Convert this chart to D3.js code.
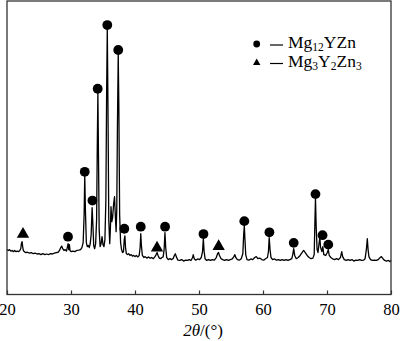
<!DOCTYPE html>
<html>
<head>
<meta charset="utf-8">
<script src="https://cdn.jsdelivr.net/npm/d3@7/dist/d3.min.js"></script>
<style>
  html, body { margin: 0; padding: 0; background: #fff; }
  svg { display: block; }
</style>
</head>
<body>
<svg id="chart" width="400" height="341"></svg>
<script>
// XRD pattern: [2θ (°), intensity (a.u.)]
const pattern = [
  [20.0,153],[20.2,150],[20.4,153],[20.6,148],[20.8,150],[21.0,146],[21.2,150],[21.4,146],
  [21.6,148],[21.8,146],[22.0,150],[22.15,156],[22.25,173],[22.35,180],[22.45,163],[22.55,150],
  [22.7,146],[22.9,143],[23.2,144],[23.5,141],[23.8,143],[24.1,139],[24.4,141],[24.7,138],
  [25.0,139],[25.3,136],[25.6,139],[25.9,136],[26.2,138],[26.5,136],[26.8,139],[27.1,138],
  [27.4,141],[27.7,143],[28.0,144],[28.2,150],[28.4,160],[28.55,165],[28.7,156],[28.9,150],
  [29.1,153],[29.3,148],[29.45,163],[29.55,173],[29.65,153],[29.75,170],[29.85,150],[30.0,146],
  [30.3,148],[30.6,146],[30.9,150],[31.2,151],[31.5,153],[31.7,160],[31.9,177],[32.05,272],
  [32.15,405],[32.25,289],[32.4,177],[32.55,163],[32.7,167],[32.85,160],[33.0,173],[33.15,204],
  [33.3,296],[33.42,238],[33.55,167],[33.7,156],[33.85,173],[34.0,255],[34.1,493],[34.2,687],
  [34.3,459],[34.4,221],[34.55,163],[34.7,173],[34.85,197],[35.0,170],[35.15,163],[35.3,187],
  [35.45,323],[35.57,697],[35.67,908],[35.77,663],[35.9,255],[36.05,173],[36.15,221],[36.25,299],
  [36.38,248],[36.5,262],[36.65,306],[36.8,333],[36.92,272],[37.05,214],[37.15,289],[37.25,561],
  [37.38,820],[37.48,629],[37.6,272],[37.75,177],[37.9,153],[38.05,143],[38.2,146],[38.32,187],
  [38.42,200],[38.52,160],[38.65,139],[38.85,136],[39.0,139],[39.2,133],[39.4,136],[39.6,131],
  [39.8,133],[40.0,129],[40.2,133],[40.45,128],[40.65,133],[40.8,160],[40.9,207],[41.0,167],
  [41.15,133],[41.4,126],[41.6,129],[41.85,124],[42.1,128],[42.35,124],[42.6,126],[42.85,122],
  [43.1,128],[43.3,136],[43.45,143],[43.6,133],[43.8,124],[44.0,122],[44.2,126],[44.4,128],
  [44.55,153],[44.68,211],[44.8,160],[44.95,126],[45.2,119],[45.45,122],[45.7,119],[45.95,122],
  [46.15,133],[46.3,139],[46.45,129],[46.7,117],[47.0,116],[47.3,119],[47.6,114],[47.9,117],
  [48.2,116],[48.5,119],[48.75,116],[49.0,126],[49.1,136],[49.25,122],[49.5,117],[49.8,121],
  [50.1,119],[50.35,126],[50.55,146],[50.68,190],[50.8,146],[50.95,122],[51.2,116],[51.5,119],
  [51.8,116],[52.1,119],[52.4,117],[52.7,126],[52.9,139],[53.05,143],[53.2,133],[53.45,122],
  [53.7,119],[54.0,116],[54.3,119],[54.6,116],[54.9,119],[55.2,121],[55.45,129],[55.6,136],
  [55.75,126],[56.0,119],[56.3,117],[56.6,122],[56.85,139],[56.98,204],[57.08,235],[57.18,187],
  [57.3,136],[57.5,119],[57.8,117],[58.1,121],[58.4,119],[58.7,126],[58.95,129],[59.2,122],
  [59.5,124],[59.8,119],[60.1,117],[60.4,122],[60.7,126],[60.85,146],[60.97,194],[61.1,153],
  [61.25,126],[61.5,119],[61.8,121],[62.1,117],[62.4,119],[62.7,116],[63.0,119],[63.3,116],
  [63.6,119],[63.9,116],[64.2,119],[64.5,122],[64.65,136],[64.8,156],[64.95,133],[65.2,122],
  [65.5,126],[65.8,133],[66.1,143],[66.35,150],[66.6,143],[66.9,133],[67.2,126],[67.5,122],
  [67.8,124],[68.0,136],[68.1,238],[68.2,330],[68.3,238],[68.45,153],[68.6,143],[68.75,173],
  [68.88,194],[69.0,160],[69.2,146],[69.35,163],[69.5,136],[69.8,133],[70.05,143],[70.2,153],
  [70.35,133],[70.6,126],[70.9,121],[71.2,119],[71.5,122],[71.8,119],[72.1,126],[72.3,146],
  [72.45,129],[72.7,119],[73.0,116],[73.3,119],[73.6,116],[73.9,119],[74.2,114],[74.5,117],
  [74.8,116],[75.1,119],[75.4,116],[75.7,117],[75.95,122],[76.15,153],[76.3,190],[76.42,153],
  [76.55,129],[76.8,119],[77.1,116],[77.4,117],[77.7,116],[78.0,119],[78.3,126],[78.5,129],
  [78.75,122],[79.0,116],[79.3,114],[79.6,116],[79.85,112],[80.0,116]
];

// Phase markers: [2θ (°), marker height (a.u.)]
const mg12YZnPeaks = [
  [29.53,197],[32.15,418],[33.35,320],[34.17,701],[35.67,918],[37.38,833],[38.33,224],
  [40.9,231],[44.7,231],[50.7,206],[57.08,250],[61.0,212],[64.8,176],[68.2,342],
  [69.3,202],[70.2,170]
];
const mg3Y2Zn3Peaks = [[22.5,209],[43.44,162],[53.07,167]];

const xTicks = [20, 30, 40, 50, 60, 70, 80];

const svg = d3.select("#chart");
const plotLeft = 7, plotRight = 391, plotTop = 1, plotBottom = 294.5;
const SERIF = '"Liberation Serif"';

const x = d3.scaleLinear().domain([20, 80]).range([plotLeft, plotRight]);
const y = d3.scaleLinear().domain([0, 1000]).range([plotBottom, plotTop]);

// diffraction curve
svg.append("path")
  .datum(pattern)
  .attr("fill", "none")
  .attr("stroke", "#000")
  .attr("stroke-width", 1.3)
  .attr("stroke-linejoin", "round")
  .attr("d", d3.line().x(d => x(d[0])).y(d => y(d[1])));

// phase markers
svg.append("g").selectAll("circle")
  .data(mg12YZnPeaks).join("circle")
  .attr("cx", d => x(d[0])).attr("cy", d => y(d[1]))
  .attr("r", 4.9).attr("fill", "#000");

const tri = d3.symbol().type(d3.symbolTriangle).size(66);
svg.append("g").selectAll("path")
  .data(mg3Y2Zn3Peaks).join("path")
  .attr("transform", d => `translate(${x(d[0])},${y(d[1]) + 1})`)
  .attr("d", tri).attr("fill", "#000");

// frame
svg.append("rect")
  .attr("x", plotLeft).attr("y", plotTop)
  .attr("width", plotRight - plotLeft).attr("height", plotBottom - plotTop)
  .attr("fill", "none").attr("stroke", "#333").attr("stroke-width", 1.3);

// bottom axis, inward ticks
const axis = svg.append("g")
  .attr("transform", `translate(0,${plotBottom})`)
  .call(d3.axisBottom(x).tickValues(xTicks).tickSize(-4).tickPadding(9).tickFormat(d3.format("d")));
axis.select(".domain").remove();
axis.selectAll(".tick line").attr("stroke", "#333").attr("stroke-width", 1.2);
axis.selectAll(".tick text")
  .style("font-family", SERIF)
  .style("font-size", "16.5px")
  .attr("fill", "#000");

// axis title
const title = svg.append("text")
  .attr("x", 203).attr("y", 336)
  .attr("text-anchor", "middle")
  .style("font-family", SERIF)
  .style("font-size", "17px");
title.append("tspan").style("font-style", "italic").text("2θ");
title.append("tspan").text("/(°)");

// legend
const lg = svg.append("g");
lg.append("circle").attr("cx", 256.7).attr("cy", 44).attr("r", 3.4).attr("fill", "#000");
lg.append("path")
  .attr("transform", "translate(256.7,62.8)")
  .attr("d", d3.symbol().type(d3.symbolTriangle).size(24)).attr("fill", "#000");
lg.append("line").attr("x1", 270).attr("x2", 283).attr("y1", 45).attr("y2", 45)
  .attr("stroke", "#000").attr("stroke-width", 1.2);
lg.append("line").attr("x1", 270).attr("x2", 283).attr("y1", 63.5).attr("y2", 63.5)
  .attr("stroke", "#000").attr("stroke-width", 1.2);

// chemical formula with subscripts: parts = [[text, isSubscript], ...]
function formula(yBase, parts) {
  const t = lg.append("text").attr("x", 288).attr("y", yBase)
    .style("font-family", SERIF).style("font-size", "17.5px");
  parts.forEach(([s, sub], i) => {
    const prevSub = i > 0 && parts[i - 1][1];
    const sp = t.append("tspan").text(s);
    if (sub) sp.style("font-size", "11.5px");
    sp.attr("dy", sub ? (prevSub ? 0 : 3) : (prevSub ? -3 : 0));
  });
}
formula(48.3, [["Mg"], ["12", true], ["YZn"]]);
formula(67.3, [["Mg"], ["3", true], ["Y"], ["2", true], ["Zn"], ["3", true]]);
</script>
</body>
</html>
